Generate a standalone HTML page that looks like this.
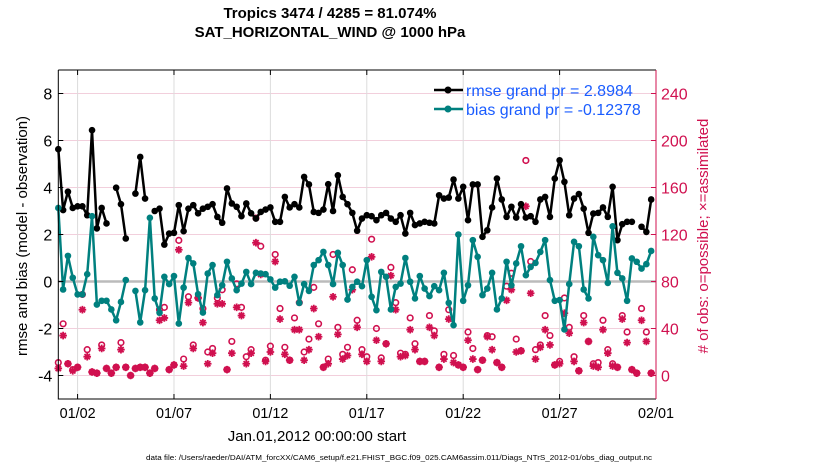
<!DOCTYPE html>
<html><head><meta charset="utf-8"><style>
html,body{margin:0;padding:0;background:#fff;}
svg{display:block;font-family:"Liberation Sans",sans-serif;}
</style></head><body>
<svg id="chart" width="830" height="470" viewBox="0 0 830 470" xmlns="http://www.w3.org/2000/svg">
<text x="330" y="18" text-anchor="middle" font-size="15" font-weight="bold">Tropics 3474 / 4285 = 81.074%</text>
<text x="330" y="37" text-anchor="middle" font-size="15" font-weight="bold">SAT_HORIZONTAL_WIND @ 1000 hPa</text>
<g id="grid"></g>
<g id="marks"></g>
<g id="axes"></g>
<text transform="translate(27,236) rotate(-90)" text-anchor="middle" font-size="15">rmse and bias (model - observation)</text>
<text transform="translate(708,236) rotate(-90)" text-anchor="middle" font-size="15" fill="#d0104f"># of obs: o=possible; ×=assimilated</text>
<text x="317" y="441" text-anchor="middle" font-size="15">Jan.01,2012 00:00:00 start</text>
<text x="146" y="460" font-size="7" textLength="506" lengthAdjust="spacingAndGlyphs">data file: /Users/raeder/DAI/ATM_forcXX/CAM6_setup/f.e21.FHIST_BGC.f09_025.CAM6assim.011/Diags_NTrS_2012-01/obs_diag_output.nc</text>
<g>
<line x1="434" y1="90" x2="463" y2="90" stroke="#000" stroke-width="2.5"/>
<circle cx="448" cy="90" r="3.5" fill="#000"/>
<text x="466" y="96" font-size="16" fill="#1a5cff">rmse grand pr = 2.8984</text>
<line x1="434" y1="109" x2="463" y2="109" stroke="#00807f" stroke-width="2.5"/>
<circle cx="448" cy="109" r="3.5" fill="#00807f"/>
<text x="466" y="115" font-size="16" fill="#1a5cff">bias grand pr = -0.12378</text>
</g>
</svg>
<script>
const N = 124;
const rmse = [5.63,3.04,3.82,3.13,3.2,3.2,2.82,6.44,2.26,3.13,2.47,null,3.99,3.29,1.83,null,3.74,5.3,3.53,null,3.0,3.1,1.57,2.04,2.07,3.25,2.14,3.1,3.25,2.9,3.1,3.18,3.29,2.75,2.5,3.96,3.32,3.18,2.78,3.32,2.9,2.68,2.96,3.06,3.15,2.54,2.54,3.6,3.15,3.29,3.15,4.45,4.13,2.96,2.92,3.06,4.14,3.0,4.52,3.6,3.29,2.92,2.16,2.68,2.82,2.78,2.61,2.82,2.92,2.68,2.54,2.82,2.04,2.92,2.4,2.47,2.54,2.5,2.47,3.67,3.53,3.57,4.34,3.53,4.03,2.61,4.13,4.13,1.9,2.18,3.15,4.38,3.49,2.75,3.18,2.72,3.29,2.72,2.78,2.54,3.49,3.6,2.75,4.38,5.16,4.24,2.82,3.53,3.72,3.1,2.07,2.89,2.92,3.15,2.75,4.03,1.76,2.44,2.54,2.54,null,2.33,2.11,3.49];
const bias = [3.13,-0.34,1.09,0.16,-0.55,-0.55,0.31,2.78,-0.98,-0.82,-0.82,-1.19,-1.65,-0.87,0.06,null,-0.4,-1.74,-0.37,2.71,-0.72,-1.33,0.2,-0.11,0.23,-1.79,-0.26,1.0,0.77,-0.54,-1.32,0.34,0.7,-0.58,-0.16,0.84,0.13,-0.37,-0.09,0.41,-0.11,0.37,0.34,0.31,0.09,-0.26,-0.01,0.01,-0.18,0.2,-0.91,-0.11,-0.4,0.7,0.91,1.26,0.7,-0.11,1.22,0.7,-0.77,-0.23,-0.01,-0.2,0.91,-0.65,-1.22,0.41,0.2,-1.19,-0.23,-0.09,1.0,-0.01,-0.72,0.23,-0.3,-0.62,-0.2,-0.37,0.37,-0.91,-1.86,2.0,-0.82,-0.16,1.76,1.05,-0.58,-0.3,0.37,-1.19,-0.72,0.84,-0.16,0.77,1.5,0.27,0.62,0.79,1.26,1.76,0.06,-0.82,-0.79,-2.04,-0.11,1.69,1.5,-0.34,-0.72,1.9,1.12,0.91,-0.06,2.35,0.37,0.13,-0.82,0.98,0.84,0.55,0.74,1.3];
const possible = [11,44,10,5,7,69,22,3,2,26,6,2,7,28,7,0,6,7,7,2,6,56,58,5,9,115,14,67,26,66,57,20,23,66,73,5,29,78,58,16,22,134,110,13,25,103,57,24,13,49,62,20,31,75,44,7,14,103,41,18,24,90,47,22,16,116,40,15,27,92,62,19,18,49,27,12,12,51,38,7,18,56,17,9,7,37,23,5,13,34,33,11,7,76,87,31,21,183,97,22,26,51,34,9,12,66,41,16,4,51,29,10,11,47,22,10,7,51,37,5,2,57,37,2];
const assimilated = [6,34,10,4,7,56,16,3,2,23,6,2,7,22,7,0,6,7,7,2,6,47,49,5,9,107,8,62,23,66,45,10,19,61,61,5,19,58,51,10,19,113,86,12,20,97,48,18,13,39,39,13,22,57,33,7,10,67,35,14,17,73,41,18,12,101,30,12,27,85,56,16,17,39,22,12,12,41,34,7,14,48,11,9,7,30,14,5,13,33,22,11,7,64,73,20,21,144,70,14,24,39,26,9,10,53,36,12,4,45,29,8,7,39,19,8,7,48,28,5,2,47,29,2];
const xTickLabels = ["01/02","01/07","01/12","01/17","01/22","01/27","02/01"];
const xTickDays = [1,6,11,16,21,26,31];
const yTicks = [-4,-2,0,2,4,6,8];
const y2Ticks = [0,40,80,120,160,200,240];

const X0=58.3, X1=656, Y0=399, Y1=70;
const x = d => X0 + d/31*(X1-X0);
const xi = i => x(i*0.25);
const y = v => Y0 - (v+5)/14*(Y0-Y1);
const y2 = c => y(c/20-4);
const NS="http://www.w3.org/2000/svg";
function mk(parent, tag, attrs){const e=document.createElementNS(NS,tag);for(const k in attrs)e.setAttribute(k,attrs[k]);parent.appendChild(e);return e;}
const grid=document.getElementById('grid'), marks=document.getElementById('marks'), axes=document.getElementById('axes');

yTicks.forEach(t=>{
  const g=mk(grid,'line',{x1:X0,x2:X1,y1:y(t),y2:y(t),stroke:'#f2cfdc','stroke-width':1});
  
  
  const tk=mk(axes,'line',{x1:X0,x2:X0+5,y1:y(t),y2:y(t),stroke:'#000'});
  
  
  const tx=mk(axes,'text',{x:X0-6,y:y(t)+6,'text-anchor':'end','font-size':16});
  tx.textContent=t;
  
  
});
y2Ticks.forEach(t=>{
  const tk=mk(axes,'line',{x1:X1-5,x2:X1,y1:y2(t),y2:y2(t),stroke:'#d0104f'});
  
  
  const tx=mk(axes,'text',{x:X1+5,y:y2(t)+6,'font-size':16,fill:'#d0104f'});
  tx.textContent=t;
  
  
});
xTickDays.forEach((d,k)=>{
  if(d<31){
    const g=mk(grid,'line',{x1:x(d),x2:x(d),y1:Y1,y2:Y0,stroke:'#dcdcdc'});
    
    
  }
  const tk=mk(axes,'line',{x1:x(d),x2:x(d),y1:Y0,y2:Y0-5,stroke:'#000'});
  
  
  const tk2=mk(axes,'line',{x1:x(d),x2:x(d),y1:Y1,y2:Y1+5,stroke:'#000'});
  
  
  const tx=mk(axes,'text',{x:x(d),y:Y0+19,'text-anchor':'middle','font-size':15,textLength:36,lengthAdjust:'spacingAndGlyphs'});
  tx.textContent=xTickLabels[k];
  
  
});
const zl=mk(grid,'line',{x1:X0,x2:X1,y1:y(0),y2:y(0),stroke:'#bbbbbb','stroke-width':2.5});



// obs counts
for(let i=0;i<N;i++){
  if(possible[i]!=null){
    const c=mk(marks,'circle',{cx:xi(i),cy:y2(possible[i]),r:2.8,fill:'none',stroke:'#d0104f','stroke-width':1.6});
    
    
  }
  if(assimilated[i]!=null){
    const cx=xi(i), cy=y2(assimilated[i]), r=3.8, q=r*0.7;
    const s=mk(marks,'path',{d:`M${cx-r},${cy}H${cx+r}M${cx},${cy-r}V${cy+r}M${cx-q},${cy-q}L${cx+q},${cy+q}M${cx-q},${cy+q}L${cx+q},${cy-q}`,stroke:'#d0104f','stroke-width':1.8,fill:'none'});
    
    
  }
}
function series(vals,color,name){
  let d='',pen=false;
  vals.forEach((v,i)=>{ if(v==null){pen=false;return;} d+=(pen?'L':'M')+xi(i).toFixed(1)+','+y(v).toFixed(1); pen=true;});
  const p=mk(marks,'path',{d:d,fill:'none',stroke:color,'stroke-width':2.5,'stroke-linejoin':'round'});
  
  
  vals.forEach((v,i)=>{ if(v==null)return;
    const c=mk(marks,'circle',{cx:xi(i),cy:y(v),r:3.3,fill:color});
    
    
  });
}
series(rmse,'#000','rmse');
series(bias,'#00807f','bias');

const fr=mk(axes,'path',{d:`M${X0},${Y1}V${Y0}H${X1}M${X0},${Y1}H${X1}`,fill:'none',stroke:'#000','stroke-width':1});


const ra=mk(axes,'line',{x1:X1,x2:X1,y1:Y1,y2:Y0,stroke:'#d0104f','stroke-width':1});


</script>
</body></html>
